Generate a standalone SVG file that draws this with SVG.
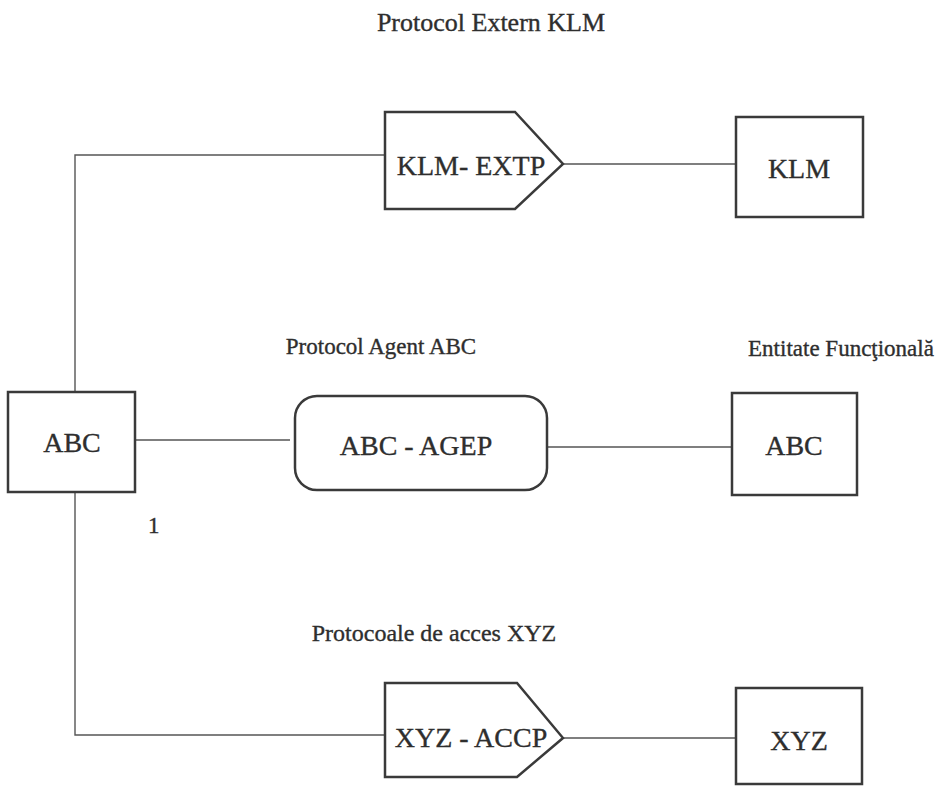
<svg xmlns="http://www.w3.org/2000/svg" width="937" height="790" viewBox="0 0 937 790">
<style>
.s{fill:#fff;stroke:#3a3a3a;stroke-width:2.5}
.c{fill:none;stroke:#555;stroke-width:1.4}
text{font-family:"Liberation Serif","Times New Roman","DejaVu Serif",serif;fill:#2e2e2e;stroke:#2e2e2e;stroke-width:0.35}
.l{font-size:28px;text-anchor:middle}
</style>
<rect width="937" height="790" fill="#fff"/>
<g id="connectors">
<polyline class="c" points="385,155 75,155 75,392"/>
<polyline class="c" points="75,492 75,735 385,735"/>
<line class="c" x1="135" y1="440" x2="290" y2="440"/>
<line class="c" x1="547" y1="447" x2="732" y2="447"/>
<line class="c" x1="563" y1="164" x2="736" y2="164"/>
<line class="c" x1="563" y1="738" x2="736" y2="738"/>
</g>
<text x="491" y="31" font-size="26" text-anchor="middle">Protocol Extern KLM</text>
<text x="381" y="354" font-size="23" text-anchor="middle">Protocol Agent ABC</text>
<text x="841" y="356" font-size="23" text-anchor="middle">Entitate Funcţională</text>
<text x="148" y="533" font-size="23">1</text>
<text x="434" y="641" font-size="24" text-anchor="middle">Protocoale de acces XYZ</text>
<g id="klm-extp">
<polygon class="s" points="385,112 515,112 563,164 515,209 385,209"/>
<text class="l" x="471" y="175">KLM- EXTP</text>
</g>
<g id="klm">
<rect class="s" x="736" y="117" width="127" height="100"/>
<text class="l" x="799" y="178">KLM</text>
</g>
<g id="abc-left">
<rect class="s" x="8" y="392" width="127" height="100"/>
<text class="l" x="72" y="452">ABC</text>
</g>
<g id="abc-agep">
<rect class="s" x="295" y="396" width="252" height="94" rx="22" ry="22"/>
<text class="l" x="416" y="455">ABC - AGEP</text>
</g>
<g id="abc-right">
<rect class="s" x="732" y="393" width="125" height="102"/>
<text class="l" x="794" y="455">ABC</text>
</g>
<g id="xyz-accp">
<polygon class="s" points="385,683 517,683 563,738 517,777 385,777"/>
<text class="l" x="471" y="747">XYZ - ACCP</text>
</g>
<g id="xyz">
<rect class="s" x="736" y="688" width="126" height="96"/>
<text class="l" x="799" y="750">XYZ</text>
</g>
</svg>
